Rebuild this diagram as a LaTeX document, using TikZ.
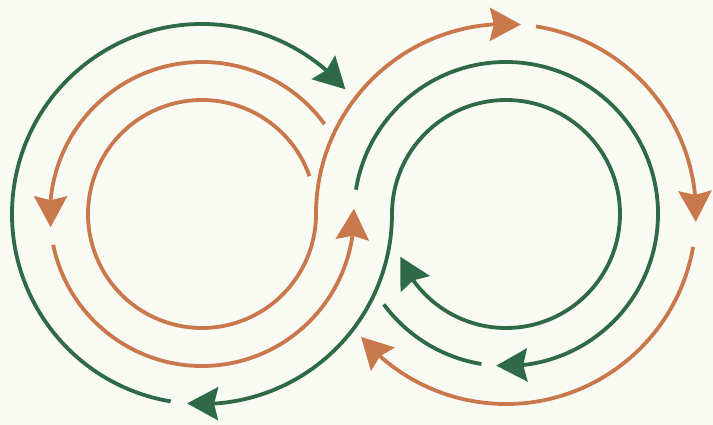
\documentclass[tikz,border=0pt]{standalone}
\usetikzlibrary{arrows.meta,bending}
\definecolor{lanegreen}{HTML}{2E6A45}
\definecolor{laneorange}{HTML}{C8784A}
\definecolor{paper}{HTML}{FAFAF5}
\tikzset{
  ah/.tip={Stealth[length=31pt,width=33pt,inset=4pt]},
  lane/.style={line width=3.8pt, line cap=butt},
  gl/.style={lane, draw=lanegreen},
  ol/.style={lane, draw=laneorange}
}
\begin{document}
\begin{tikzpicture}[x=1pt,y=1pt]
  \fill[paper] (0,0) rectangle (713,425);
  \useasboundingbox (0,0) rectangle (713,425);
  \coordinate (L) at (202,211);
  \coordinate (R) at (506,211);
  % green S: left outer -> right inner
  \draw[gl,ah-ah] ([shift={(-94.5:190pt)}]L) arc[start angle=-94.5,end angle=0,radius=190pt]
      arc[start angle=180,end angle=-158,radius=114pt];
  % left outer green
  \draw[gl,-ah] ([shift={(-99.5:190pt)}]L) arc[start angle=-99.5,end angle=-319,radius=190pt];
  % left middle orange
  \draw[ol,-ah] ([shift={(36.3:152pt)}]L) arc[start angle=36.3,end angle=185,radius=152pt];
  \draw[ol,-ah] ([shift={(191.7:152pt)}]L) arc[start angle=191.7,end angle=362,radius=152pt];
  % orange S: left inner -> right outer
  \draw[ol,-ah] ([shift={(19.4:114pt)}]L) arc[start angle=19.4,end angle=360,radius=114pt]
      arc[start angle=180,end angle=85.5,radius=190pt];
  % right outer orange
  \draw[ol,-ah] ([shift={(80.9:190pt)}]R) arc[start angle=80.9,end angle=-2.4,radius=190pt];
  \draw[ol,-ah] ([shift={(-10:190pt)}]R) arc[start angle=-10,end angle=-139.7,radius=190pt];
  % right middle green
  \draw[gl,-ah] ([shift={(170.8:152pt)}]R) arc[start angle=170.8,end angle=-93.7,radius=152pt];
  \draw[gl] ([shift={(-99.3:152pt)}]R) arc[start angle=-99.3,end angle=-143.5,radius=152pt];
\end{tikzpicture}
\end{document}
